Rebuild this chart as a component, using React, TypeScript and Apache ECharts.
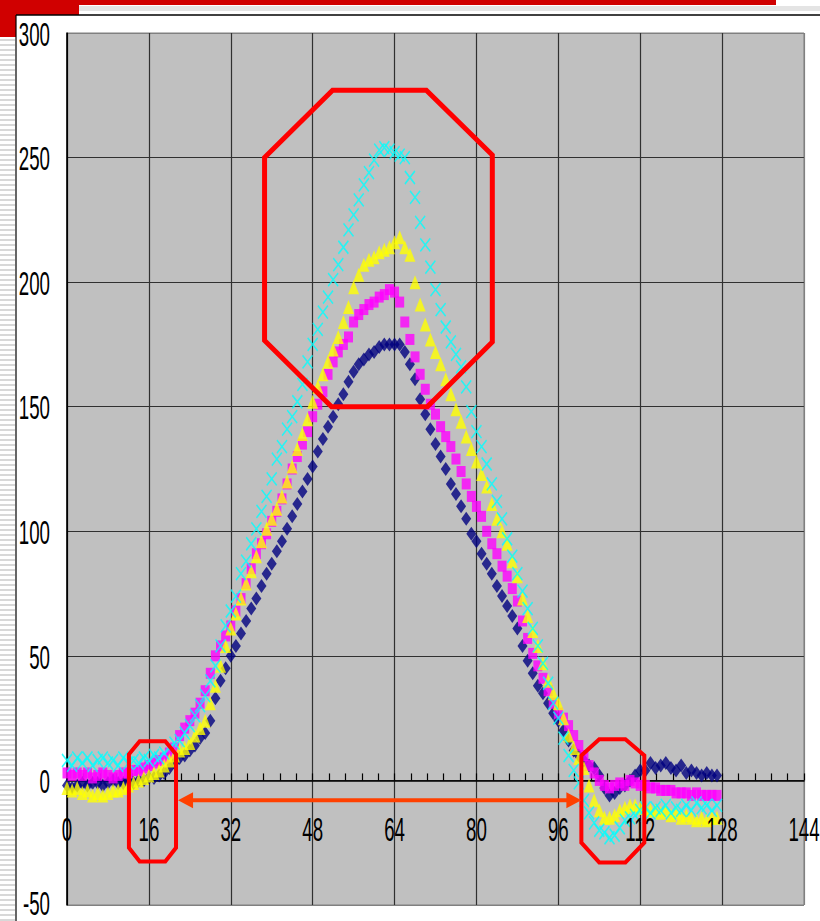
import React, { useEffect, useRef } from "react";
import * as echarts from "echarts";

// Axis ticks
const xTicks = [0, 16, 32, 48, 64, 80, 96, 112, 128, 144];
const yTicks = [-50, 0, 50, 100, 150, 200, 250, 300];

// Four profiles sampled at x = 0..127
const navy = [
  -2, -3, -2, -1, -2, -1, -1, -2, -1, 0, -1, -1, 0, -1, 0, 0,
  1, 1, 2, 3, 5, 7, 9, 10, 12, 14, 17, 19, 24, 33, 40, 45,
  50, 54, 59, 64, 69, 73, 78, 83, 87, 92, 96, 101, 106, 111, 116, 121,
  126, 132, 137, 142, 146, 151, 155, 160, 164, 167, 169, 171, 172, 174, 175, 175,
  175, 175, 172, 167, 161, 153, 147, 141, 135, 130, 125, 119, 115, 110, 105, 99,
  96, 91, 87, 83, 78, 74, 70, 66, 61, 54, 48, 43, 38, 35, 31, 27,
  24, 20, 16, 12, 10, 8, 6, 5, 2, -3, -6, -5, -3, -2, 0, 2,
  4, 4, 7, 5, 6, 7, 5, 4, 6, 3, 4, 3, 2, 3, 2, 2,
];

const magenta = [
  3, 2, 3, 2, 3, 1, 2, 3, 2, 1, 2, 3, 3, 4, 4, 5,
  6, 7, 8, 9, 11, 13, 18, 21, 24, 27, 31, 36, 43, 50, 54, 58,
  62, 68, 73, 79, 85, 91, 95, 99, 104, 108, 113, 119, 125, 130, 135, 140,
  146, 151, 156, 163, 168, 172, 175, 178, 184, 187, 189, 191, 192, 194, 195, 197,
  196, 192, 184, 177, 170, 163, 157, 151, 147, 142, 138, 134, 129, 124, 119, 114,
  110, 106, 100, 95, 91, 86, 82, 77, 72, 64, 57, 51, 46, 41, 36, 31,
  27, 25, 22, 18, 14, 10, 6, 3, 0, -2, -3, -2, -1, -2, 0, -1,
  -2, -2, -3, -3, -4, -4, -4, -5, -5, -5, -6, -5, -6, -6, -6, -6,
];

const yellow = [
  -3, -4, -3, -5, -4, -6, -5, -6, -5, -4, -4, -3, -2, -1, 0, 1,
  2, 3, 4, 6, 8, 10, 12, 13, 15, 18, 21, 24, 31, 38, 46, 54,
  61, 67, 73, 79, 84, 90, 96, 101, 105, 109, 114, 120, 126, 133, 139, 145,
  152, 158, 163, 168, 173, 178, 184, 190, 198, 203, 207, 209, 210, 212, 213, 214,
  216, 218, 214, 211, 200, 191, 183, 177, 172, 167, 161, 155, 149, 144, 138, 133,
  128, 123, 118, 111, 105, 100, 95, 88, 82, 73, 66, 60, 54, 47, 40, 35,
  31, 25, 18, 13, 9, 5, -2, -8, -12, -15, -15, -14, -12, -11, -10, -10,
  -11, -11, -12, -12, -13, -12, -14, -13, -15, -14, -15, -16, -15, -16, -15, -15,
];

const cyan = [
  8, 6, 9, 7, 9, 6, 8, 9, 7, 8, 6, 9, 7, 8, 7, 9,
  8, 10, 9, 11, 13, 15, 16, 19, 22, 26, 30, 34, 40, 46, 54, 62,
  68, 74, 83, 88, 95, 101, 108, 114, 121, 129, 134, 141, 146, 152, 159, 168,
  175, 181, 188, 194, 201, 207, 214, 221, 227, 233, 239, 244, 249, 253, 254, 253,
  252, 251, 250, 242, 234, 224, 215, 206, 197, 189, 182, 176, 171, 166, 158, 148,
  140, 134, 127, 119, 112, 105, 97, 90, 83, 76, 69, 61, 54, 47, 39, 31,
  25, 17, 10, 4, -1, -8, -13, -17, -20, -21, -23, -22, -19, -16, -15, -14,
  -12, -11, -13, -11, -12, -10, -13, -11, -12, -10, -12, -9, -11, -10, -12, -10,
];

// Highlight outlines and the span arrow, in data units
const peakOutline = [
  [51.9, 277], [70.2, 277], [83.1, 251], [83.1, 176],
  [70.4, 150], [51.7, 150], [38.6, 176.6], [38.6, 250],
];
const leftOutline = [
  [12.1, 10.5], [14.2, 15.7], [19.2, 15.7], [21.3, 10.5],
  [21.3, -27], [19.2, -32.5], [14.2, -32.5], [12.1, -27],
];
const rightOutline = [
  [100.5, 10], [104, 16.5], [109.1, 16.5], [112.8, 10],
  [112.8, -25], [109.1, -32.9], [104, -32.9], [100.5, -25],
];
const spanArrow = { from: 21.7, to: 100.5, y: -8 };

const LABEL_FONT = "'Liberation Sans', Arial, sans-serif";
const LABEL_SIZE = 34;
const LABEL_SQUEEZE = 0.55;
const PAGE_H = 921;

const toPoints = (arr: number[]) => arr.map((v, i) => [i, v]);

export default function App() {
  const ref = useRef<HTMLDivElement>(null);

  useEffect(() => {
    if (!ref.current) return;
    const chart = echarts.init(ref.current, undefined, { renderer: "svg" });

    const xSplitColors = xTicks.map((t, i) =>
      i === 0 ? "#000" : i === xTicks.length - 1 ? "#808080" : "#303030"
    );
    const ySplitColors = yTicks.map((t, i) =>
      i === 0 || i === yTicks.length - 1 ? "#808080" : "#303030"
    );

    chart.setOption({
      animation: false,
      backgroundColor: "#ffffff",
      grid: {
        left: 67,
        right: 16,
        top: 33,
        bottom: 16,
        show: true,
        backgroundColor: "#C0C0C0",
        borderColor: "#808080",
        borderWidth: 1,
        containLabel: false,
        outerBoundsMode: "none",
      },
      xAxis: {
        type: "value",
        min: 0,
        max: 144,
        interval: 16,
        axisLine: { show: true, onZero: true, lineStyle: { color: "#000", width: 1.5 } },
        axisTick: { show: true, inside: true, length: 7, lineStyle: { color: "#000", width: 1.2 } },
        minorTick: { show: true, splitNumber: 5, length: 7, lineStyle: { color: "#000", width: 1.2 } },
        axisLabel: { show: false },
        splitLine: { show: true, lineStyle: { color: xSplitColors, width: 1.2 } },
      },
      yAxis: {
        type: "value",
        min: -50,
        max: 300,
        interval: 50,
        axisLine: { show: true, onZero: false, lineStyle: { color: "#000", width: 1.5 } },
        axisTick: { show: false },
        axisLabel: { show: false },
        splitLine: { show: true, lineStyle: { color: ySplitColors, width: 1.2 } },
      },
      series: [
        {
          type: "scatter",
          name: "s1",
          data: toPoints(navy),
          symbol: "diamond",
          symbolSize: [10, 14],
          itemStyle: { color: "#000080" },
        },
        {
          type: "scatter",
          name: "s2",
          data: toPoints(magenta),
          symbol: "rect",
          symbolSize: [9, 11],
          itemStyle: { color: "#FF00FF" },
        },
        {
          type: "scatter",
          name: "s3",
          data: toPoints(yellow),
          symbol: "triangle",
          symbolSize: [11, 14],
          itemStyle: { color: "#FFFF00" },
        },
        {
          type: "scatter",
          name: "s4",
          data: toPoints(cyan),
          symbol: "path://M0,0L10,12M10,0L0,12",
          symbolSize: [10, 13],
          itemStyle: { color: "transparent", borderColor: "#00FFFF", borderWidth: 1.6 },
        },
      ],
    });

    const px = (x: number, y: number) =>
      chart.convertToPixel({ gridIndex: 0 }, [x, y]) as number[];

    // Slide frame: red corner, top rule and left striping
    const frame: any[] = [
      { type: "rect", shape: { x: 0, y: 0, width: 79, height: 15 }, style: { fill: "#D00000" } },
      { type: "rect", shape: { x: 0, y: 0, width: 16, height: 37 }, style: { fill: "#D00000" } },
      { type: "rect", shape: { x: 79, y: 0, width: 697, height: 5 }, style: { fill: "#D00000" } },
      { type: "rect", shape: { x: 79, y: 6, width: 741, height: 5 }, style: { fill: "#E4E4E4" } },
      { type: "line", shape: { x1: 16, y1: 15, x2: 820, y2: 15 }, style: { stroke: "#000", lineWidth: 1.5 } },
      { type: "line", shape: { x1: 16, y1: 15, x2: 16, y2: PAGE_H }, style: { stroke: "#000", lineWidth: 1.2 } },
    ];
    for (let y = 39; y < PAGE_H; y += 5) {
      frame.push({ type: "rect", shape: { x: 0, y, width: 15, height: 2 }, style: { fill: "#D8D8D8" } });
    }

    const labels: any[] = [];
    yTicks.forEach((t) => {
      const p = px(0, t);
      // keep the lowest label inside the page
      const nearBottom = p[1] + 22 > PAGE_H;
      labels.push({
        type: "text",
        x: 50,
        y: nearBottom ? PAGE_H - 1 : p[1] + 1,
        scaleX: LABEL_SQUEEZE,
        z: 100,
        style: {
          text: String(t),
          fontSize: LABEL_SIZE,
          fontFamily: LABEL_FONT,
          fill: "#000",
          align: "right",
          verticalAlign: nearBottom ? "bottom" : "middle",
        },
      });
    });
    xTicks.forEach((t) => {
      const p = px(t, 0);
      labels.push({
        type: "text",
        x: p[0],
        y: p[1] + 49,
        scaleX: LABEL_SQUEEZE,
        z: 100,
        style: {
          text: String(t),
          fontSize: LABEL_SIZE,
          fontFamily: LABEL_FONT,
          fill: "#000",
          align: "center",
          verticalAlign: "middle",
        },
      });
    });

    const outline = (pts: number[][], width: number) => ({
      type: "polygon",
      z: 100,
      shape: { points: pts.map(([x, y]) => px(x, y)) },
      style: { fill: "none", stroke: "#FF0000", lineWidth: width, lineJoin: "miter" },
    });

    const a = px(spanArrow.from, spanArrow.y);
    const b = px(spanArrow.to, spanArrow.y);
    const head = 15;
    const half = 8;
    const arrowColor = "#FF4000";
    const arrow: any[] = [
      {
        type: "line",
        z: 100,
        shape: { x1: a[0] + head - 2, y1: a[1], x2: b[0] - head + 2, y2: b[1] },
        style: { stroke: arrowColor, lineWidth: 4 },
      },
      {
        type: "polygon",
        z: 100,
        shape: { points: [[a[0], a[1]], [a[0] + head, a[1] - half], [a[0] + head, a[1] + half]] },
        style: { fill: arrowColor },
      },
      {
        type: "polygon",
        z: 100,
        shape: { points: [[b[0], b[1]], [b[0] - head, b[1] - half], [b[0] - head, b[1] + half]] },
        style: { fill: arrowColor },
      },
    ];

    chart.setOption({
      graphic: [
        ...frame,
        ...labels,
        outline(peakOutline, 5),
        outline(leftOutline, 4),
        outline(rightOutline, 4),
        ...arrow,
      ],
    });

    return () => chart.dispose();
  }, []);

  return (
    <div style={{ position: "fixed", left: 0, top: 0, width: 820, height: PAGE_H, background: "#fff" }}>
      <div ref={ref} style={{ width: 820, height: PAGE_H }} />
    </div>
  );
}
